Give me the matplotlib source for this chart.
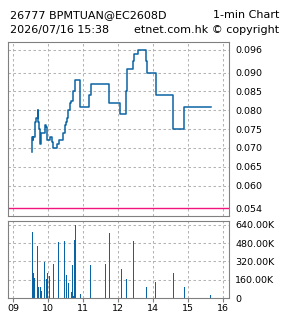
import matplotlib.pyplot as plt
import matplotlib.ticker as mticker

# price steps (time, last price), the last entry just marks the end of the line
price_times = ["09:33", "09:33", "09:34", "09:35", "09:37", "09:40", "09:42", "09:43",
               "09:44", "09:46", "09:47", "09:48", "09:54", "09:56", "09:58", "10:03",
               "10:07", "10:09", "10:16", "10:18", "10:26", "10:29", "10:30", "10:32",
               "10:34", "10:38", "10:40", "10:42", "10:43", "10:46", "10:47", "10:55",
               "11:11", "11:13", "11:45", "13:04", "13:13", "13:15", "13:25", "13:27",
               "13:34", "13:48", "13:50", "14:05", "14:35", "14:54", "15:39"]
prices = [0.069, 0.073, 0.072, 0.073, 0.077, 0.078, 0.080, 0.077,
          0.075, 0.072, 0.071, 0.074, 0.076, 0.0755, 0.072, 0.073,
          0.0717, 0.070, 0.071, 0.072, 0.074, 0.076, 0.077, 0.078,
          0.080, 0.082, 0.0826, 0.083, 0.085, 0.086, 0.088, 0.081,
          0.084, 0.087, 0.082, 0.079, 0.085, 0.091, 0.093, 0.095,
          0.096, 0.093, 0.090, 0.084, 0.075, 0.081, 0.081]

vol_times = ["09:33", "09:35", "09:36", "09:42", "09:44", "09:47", "09:48", "09:54",
             "09:57", "09:59", "10:03", "10:09", "10:18", "10:28", "10:31", "10:35",
             "10:40", "10:42", "10:43", "10:45", "10:47", "10:55", "11:13", "11:38",
             "11:45", "13:06", "13:14", "13:26", "13:49", "14:04", "14:35", "14:54",
             "15:38"]
volumes = [575, 223, 179, 455, 94, 94, 59, 317,
           164, 223, 191, 297, 487, 502, 200, 132,
           50, 288, 21, 508, 640, 32, 288, 297,
           569, 252, 170, 499, 94, 138, 220, 94,
           23]  # thousands

prev_close = 0.054
price_ticks = [0.054, 0.060, 0.065, 0.070, 0.075, 0.080, 0.085, 0.090, 0.096]
vol_ticks = [0, 160, 320, 480, 640]
hour_ticks = [0, 1, 2, 3, 4, 5, 6]
hour_labels = ["09", "10", "11", "12", "14", "15", "16"]


def to_x(s):
    # trading hours since 09:00, lunch hour squeezed out
    h, m = map(int, s.split(":"))
    x = h + m / 60 - 9
    if h >= 13:
        x -= 1
    return x


blue = "#0a64a4"
frame = "#808080"
grid_kw = dict(color="#b4b4b4", lw=0.75, ls=(0, (2.4, 2.4)))

fig = plt.figure(figsize=(2.85, 3.18), dpi=100)
ax = fig.add_axes([8 / 285, 102 / 318, 221.5 / 285, 174 / 318])
axv = fig.add_axes([8 / 285, 20 / 318, 221.5 / 285, 77 / 318])

px = [to_x(t) for t in price_times]
ax.step(px, prices, where="post", color=blue, lw=1.1)
ax.axhline(prev_close, color="#f0147c", lw=1.0)

vx = [to_x(t) for t in vol_times]
axv.bar(vx, [v * 1000 for v in volumes], width=2.0 / 60, color=blue, lw=0)

for a in (ax, axv):
    a.set_xlim(-0.143, 6.186)
    a.set_xticks(hour_ticks)
    for s in a.spines.values():
        s.set_color(frame)
        s.set_linewidth(0.8)
    a.yaxis.tick_right()
    a.tick_params(axis="y", length=0, pad=4, labelsize=6.8)
    a.tick_params(axis="x", length=3, color=frame, width=0.8, labelsize=6.8, pad=1.5)
    for t in hour_ticks:
        a.axvline(t, **grid_kw, zorder=0)

ax.set_ylim(0.05196, 0.09812)
ax.set_yticks(price_ticks)
ax.yaxis.set_major_formatter(mticker.FormatStrFormatter("%.3f"))
ax.tick_params(axis="x", length=0, labelbottom=False)
for p in price_ticks[1:]:
    ax.axhline(p, **grid_kw, zorder=0)

axv.set_ylim(0, 675000)
axv.set_yticks([v * 1000 for v in vol_ticks])
axv.set_yticklabels(["0"] + ["%.2fK" % v for v in vol_ticks[1:]])
axv.set_xticklabels(hour_labels)
for v in vol_ticks[1:]:
    axv.axhline(v * 1000, **grid_kw, zorder=0)

fig.text(10 / 285, 1 - 18.3 / 318, "26777 BPMTUAN@EC2608D", fontsize=8.0, va="baseline")
fig.text(279 / 285, 1 - 18.3 / 318, "1-min Chart", fontsize=8.0, va="baseline", ha="right")
fig.text(10 / 285, 1 - 33.3 / 318, "2026/07/16 15:38", fontsize=8.0, va="baseline")
fig.text(279 / 285, 1 - 33.3 / 318, "etnet.com.hk \u00a9 copyright", fontsize=8.0,
         va="baseline", ha="right")

fig.savefig("out.png", dpi=100)
